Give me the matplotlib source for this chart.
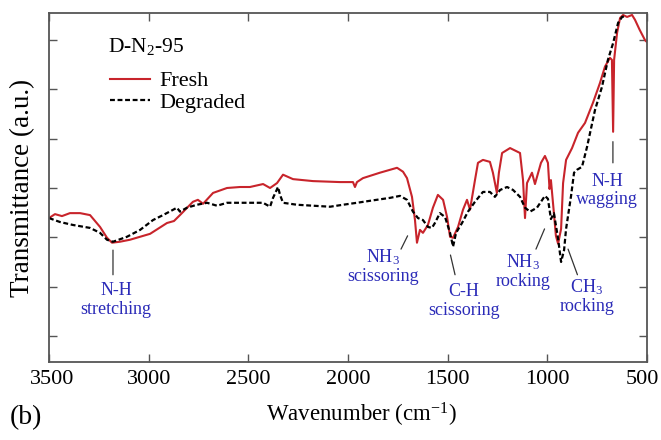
import matplotlib
matplotlib.use("Agg")
import matplotlib.pyplot as plt
from matplotlib.transforms import ScaledTranslation

plt.rcParams['font.family'] = ['Liberation Serif', 'DejaVu Serif']
plt.rcParams['mathtext.fontset'] = 'custom'
plt.rcParams['mathtext.rm'] = 'Liberation Serif'
plt.rcParams['mathtext.it'] = 'Liberation Serif:italic'

# FTIR spectra of D-N2-95 (wavenumber in cm^-1, transmittance in a.u.)
fresh_wn = [3500, 3470, 3435, 3395, 3344, 3294, 3244, 3209, 3184, 3144, 3094, 2993,
            2908, 2873, 2843, 2778, 2753, 2727, 2677, 2607, 2542, 2492, 2426, 2391,
            2356, 2326, 2276, 2176, 2040, 1975, 1965, 1955, 1925, 1840, 1754, 1724,
            1704, 1679, 1664, 1654, 1639, 1624, 1599, 1574, 1549, 1523, 1503, 1488,
            1473, 1448, 1423, 1403, 1388, 1363, 1348, 1323, 1288, 1273, 1253, 1243,
            1227, 1187, 1137, 1122, 1112, 1102, 1077, 1062, 1032, 1012, 997, 989,
            982, 967, 957, 946, 931, 921, 906, 876, 846, 811, 771, 736, 711, 686,
            676, 670, 665, 650, 635, 620, 600, 575, 560, 537, 510, 500]
fresh_t = [0.339, 0.347, 0.343, 0.349, 0.349, 0.345, 0.321, 0.299, 0.289, 0.291, 0.295, 0.307,
           0.329, 0.333, 0.345, 0.372, 0.376, 0.368, 0.390, 0.400, 0.402, 0.402, 0.408, 0.400,
           0.410, 0.427, 0.418, 0.414, 0.412, 0.412, 0.402, 0.412, 0.420, 0.431, 0.441, 0.433,
           0.420, 0.382, 0.335, 0.289, 0.315, 0.309, 0.325, 0.360, 0.386, 0.376, 0.341, 0.301,
           0.299, 0.321, 0.356, 0.376, 0.356, 0.416, 0.451, 0.457, 0.453, 0.431, 0.390, 0.431,
           0.471, 0.481, 0.471, 0.416, 0.339, 0.410, 0.431, 0.408, 0.451, 0.465, 0.451, 0.398,
           0.416, 0.349, 0.303, 0.287, 0.317, 0.410, 0.457, 0.481, 0.512, 0.532, 0.573, 0.613,
           0.646, 0.664, 0.660, 0.514, 0.660, 0.715, 0.745, 0.751, 0.747, 0.751, 0.741, 0.721,
           0.700, 0.696]

degraded_wn = [3500, 3445, 3380, 3294, 3244, 3209, 3179, 3109, 3043, 2978, 2928, 2858,
               2843, 2808, 2758, 2707, 2657, 2607, 2426, 2391, 2376, 2351, 2341, 2326,
               2256, 2090, 2025, 1955, 1890, 1789, 1739, 1704, 1674, 1649, 1624, 1599,
               1579, 1564, 1539, 1513, 1488, 1473, 1458, 1428, 1398, 1363, 1323, 1288,
               1263, 1237, 1202, 1172, 1137, 1112, 1087, 1052, 1012, 997, 982, 967,
               946, 931, 916, 906, 881, 866, 851, 826, 801, 761, 726, 696, 670, 645,
               625, 605]
degraded_t = [0.339, 0.331, 0.325, 0.319, 0.309, 0.295, 0.291, 0.301, 0.315, 0.335, 0.345, 0.360,
              0.352, 0.360, 0.366, 0.370, 0.364, 0.370, 0.370, 0.362, 0.380, 0.402, 0.386, 0.370,
              0.366, 0.362, 0.366, 0.370, 0.374, 0.380, 0.384, 0.376, 0.352, 0.339, 0.335, 0.321,
              0.319, 0.329, 0.349, 0.341, 0.309, 0.281, 0.309, 0.329, 0.352, 0.372, 0.392, 0.392,
              0.382, 0.396, 0.402, 0.396, 0.382, 0.360, 0.352, 0.360, 0.384, 0.378, 0.337, 0.349,
              0.297, 0.250, 0.274, 0.317, 0.384, 0.431, 0.437, 0.443, 0.483, 0.558, 0.605, 0.660,
              0.694, 0.735, 0.747, 0.749]

# band assignments: label, text centre, leader line (start, end)
band_labels = ["N-H\nstretching", "NH$_\\mathrm{3}$\nscissoring", "C-H\nscissoring",
               "NH$_\\mathrm{3}$\nrocking", "CH$_\\mathrm{3}$\nrocking", "N-H\nwagging"]
label_pos = [(3164, 0.173), (1824, 0.241), (1418, 0.171),
             (1122, 0.231), (801, 0.181), (701, 0.395)]
leader_top = [(3179, 0.274), (1701, 0.303), (1486, 0.264),
              (1014, 0.317), (896, 0.276), (671, 0.494)]
leader_bottom = [(3179, 0.224), (1734, 0.276), (1463, 0.224),
                 (1057, 0.276), (849, 0.224), (671, 0.451)]

fig = plt.figure(figsize=(6.61, 4.40), dpi=100)
ax = fig.add_axes([49/661, 78/440, 598/661, 349/440])

ax.plot(fresh_wn, fresh_t, color='#c8242b', lw=1.5, label='Fresh')
ax.plot(degraded_wn, degraded_t, color='black', lw=1.6, ls=(0, (2.2, 1.2)), label='Degraded')

for lab, pos, top, bot in zip(band_labels, label_pos, leader_top, leader_bottom):
    ax.annotate('', xy=top, xytext=bot,
                arrowprops=dict(arrowstyle='-', color='#333333', lw=0.9,
                                shrinkA=0, shrinkB=0))
    ax.text(pos[0], pos[1], lab, color='#2b2bb8', fontsize=13,
            ha='center', va='center', linespacing=1.1)

ax.set_xlim(3500, 500)
ax.set_ylim(0.047, 0.755)
ax.set_xticks([3500, 3000, 2500, 2000, 1500, 1000, 500])
ax.set_yticks([0.1, 0.2, 0.3, 0.4, 0.5, 0.6, 0.7])
ax.set_yticklabels([])
ax.tick_params(direction='in', top=True, right=True, length=6, width=1.0,
               color='#555555', labelsize=16, pad=6)
for sp in ax.spines.values():
    sp.set_color('#555555')
    sp.set_linewidth(1.3)

# keep the end labels inside the figure
xlabels = ax.get_xticklabels()
xlabels[0].set_transform(xlabels[0].get_transform() + ScaledTranslation(3/100, 0, fig.dpi_scale_trans))
xlabels[-1].set_transform(xlabels[-1].get_transform() + ScaledTranslation(-5/100, 0, fig.dpi_scale_trans))

ax.set_xlabel('Wavenumber (cm$^{\\mathrm{-1}}$)', fontsize=16.5, labelpad=8, x=0.523)
ax.set_ylabel('Transmittance (a.u.)', fontsize=19.5)
ax.yaxis.set_label_coords(-0.024, 0.5)
fig.text(10/661, 1 - 418/440, '(b)', fontsize=20, va='center', ha='left')

ax.text(0.099, 0.903, 'D-N$_\\mathrm{2}$-95', transform=ax.transAxes, fontsize=15.5,
        ha='left', va='center')
leg = ax.legend(loc='upper left', bbox_to_anchor=(0.083, 0.866),
                frameon=False, fontsize=16, handlelength=1.8,
                handletextpad=0.45, labelspacing=0.05, borderpad=0)

fig.savefig('out.png', dpi=100)
